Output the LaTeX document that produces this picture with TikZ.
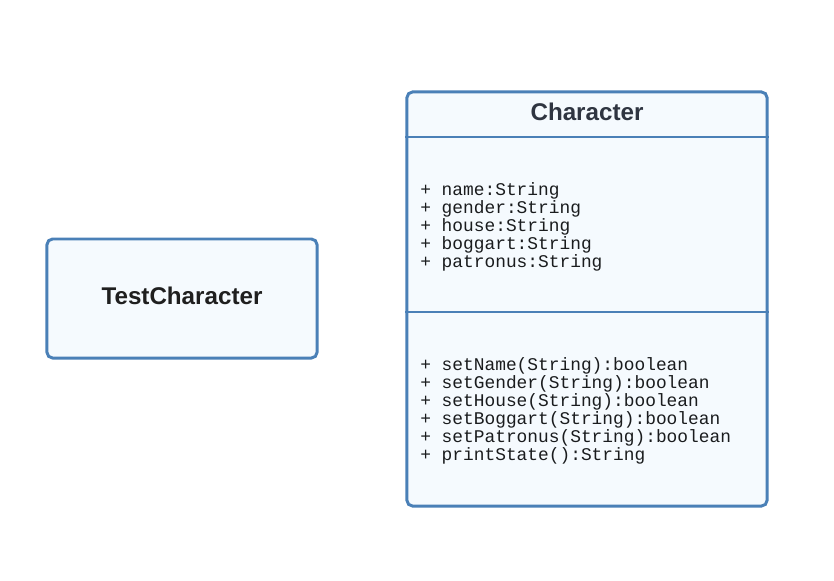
\documentclass[tikz,border=0pt]{standalone}
\usepackage{fontspec}
\setmainfont{Liberation Sans}
\setmonofont{Liberation Mono}
\usetikzlibrary{positioning}
\definecolor{boxline}{HTML}{4A80B7}
\definecolor{boxfill}{HTML}{F5FAFE}
\definecolor{titletext}{HTML}{2F3541}
\definecolor{membertext}{HTML}{1A1C1E}
\tikzset{
  classbox/.style={draw=boxline, fill=boxfill, line width=2.1pt, rounded corners=4pt, inner sep=0pt},
  classname/.style={font=\fontsize{17.2}{20}\selectfont\bfseries, text=titletext},
  members/.style={font=\fontsize{12.7}{12.8}\selectfont\ttfamily, text=membertext, align=left, anchor=west, inner sep=0pt}
}

\begin{document}
\begin{tikzpicture}[x=0.025cm, y=-0.025cm]
  \useasboundingbox (0,0) rectangle (834,580);
  % test class
  \node[classbox, minimum width=6.75cm, minimum height=2.975cm] (test) at (182,298.5) {};
  \node[classname, text=black!88] (testname) at (182,296) {TestCharacter};
  % character class with two compartments
  \node[classbox, minimum width=9cm, minimum height=10.35cm] (char) at (587,299) {};
  \node[classname] (charname) at (587,112) {Character};
  \draw[boxline, line width=2.1pt] (char.west |- 0,137) -- (char.east |- 0,137);
  \draw[boxline, line width=2.1pt] (char.west |- 0,312) -- (char.east |- 0,312);
  \node[members] (attrs) at (420,227) {+ name:String\\+ gender:String\\+ house:String\\+ boggart:String\\+ patronus:String};
  \node[members] (ops) at (420,411) {+ setName(String):boolean\\+ setGender(String):boolean\\+ setHouse(String):boolean\\+ setBoggart(String):boolean\\+ setPatronus(String):boolean\\+ printState():String};
\end{tikzpicture}
\end{document}
